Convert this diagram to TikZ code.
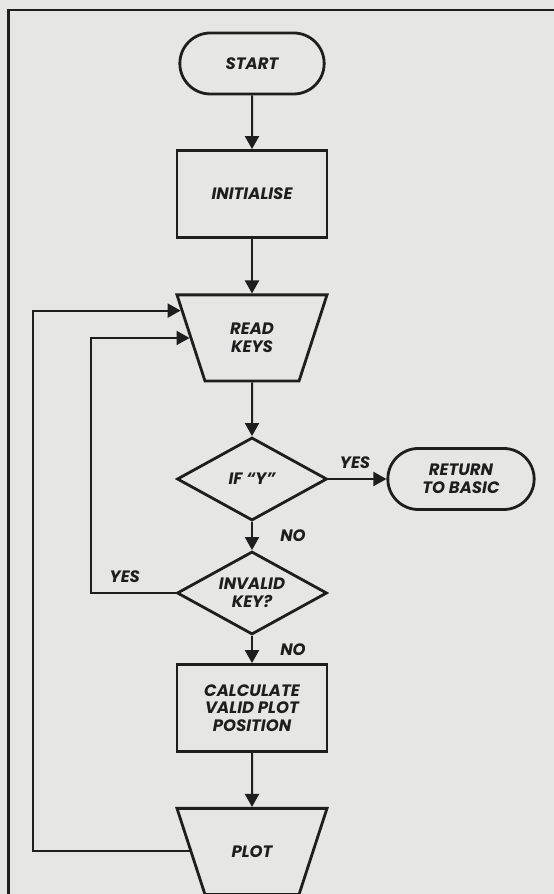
\documentclass[tikz,border=0pt]{standalone}
\usepackage{fontspec}
\setmainfont{Poppins}
\usepackage{tikz}
\usetikzlibrary{arrows.meta, positioning, shapes.geometric, shapes.misc}
\definecolor{paper}{RGB}{230,230,228}
\definecolor{ink}{RGB}{30,30,30}

\begin{document}
\begin{tikzpicture}[x=1pt, y=1pt, node distance=140pt, auto,
	every node/.style={font=\fontsize{16.5}{17.7}\selectfont\bfseries\itshape, text=ink, align=center},
	term/.style={draw=ink, line width=2.8pt, rounded rectangle, minimum width=151pt, minimum height=61pt},
	box/.style={draw=ink, line width=2.8pt, rectangle, minimum width=150pt, minimum height=87pt},
	io/.style={draw=ink, line width=2.8pt, trapezium, trapezium angle=72, trapezium stretches body, shape border rotate=180, minimum width=150pt, inner xsep=0pt},
	test/.style={draw=ink, line width=2.8pt, diamond, aspect=1.8, minimum width=150pt, minimum height=83pt, inner sep=0pt},
	flow/.style={draw=ink, line width=2pt, -{Triangle[width=14pt, length=13pt]}}]
	\fill[paper] (0,0) rectangle (554,894);
	\useasboundingbox (0,0) rectangle (554,894);
	\draw[ink, line width=2.5pt] (554,884) -- (8.5,884) -- (8.5,0);

	\node[term] (start) at (252,830.5) {START};
	\node[box, below of=start, node distance=130.5pt] (init) {INITIALISE};
	\node[io, inner ysep=28.4pt, below of=init, node distance=144pt] (read) {READ\\KEYS};
	\node[test, below of=read, node distance=141pt] (ify) {IF ``Y''};
	\node[term, right of=ify, node distance=209pt, minimum width=153pt] (ret) {RETURN\\TO BASIC};
	\node[test, below of=ify, node distance=114pt] (invalid) {INVALID\\KEY?};
	\node[box, below of=invalid, node distance=115pt] (calc) {CALCULATE\\VALID PLOT\\POSITION};
	\node[io, inner ysep=37.2pt, below of=calc, node distance=143.5pt] (plot) {PLOT};
	\coordinate (loopout) at (33,0);
	\coordinate (loopin) at (91,0);

	\path (start) edge[flow] (init);
	\path (init) edge[flow] (read);
	\path (read) edge[flow] (ify);
	\path (ify) edge[flow] node[above=6pt, pos=0.46] {YES} (ret);
	\path (ify) edge[flow] node[right=24pt] {NO} (invalid);
	\path (invalid) edge[flow] node[right=24pt] {NO} (calc);
	\path (calc) edge[flow] (plot);
	\draw[flow] (invalid.west) -- node[above=6pt, pos=0.6] {YES} (invalid.west -| loopin) |- (read.west);
	\draw[flow] (plot.west) -- (plot.west -| loopout) |- (read.159);
\end{tikzpicture}
\end{document}
